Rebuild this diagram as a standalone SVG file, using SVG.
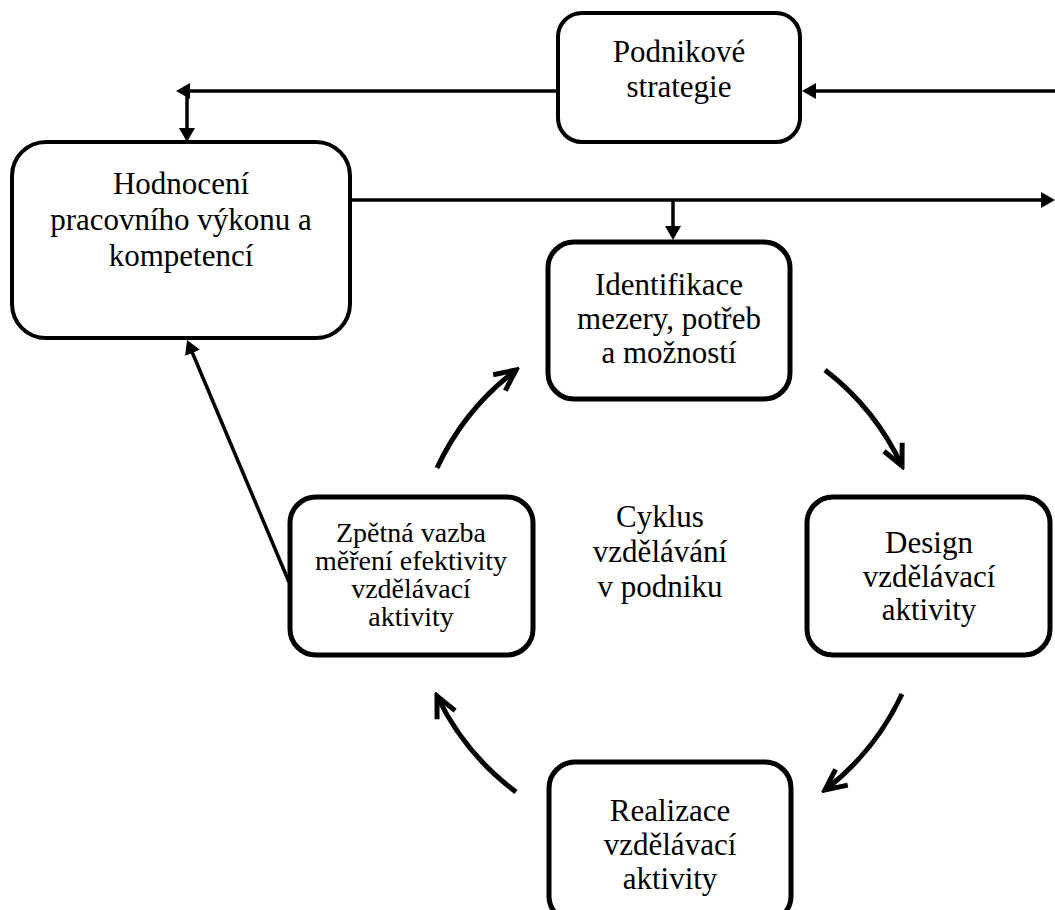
<svg xmlns="http://www.w3.org/2000/svg" width="1055" height="910" viewBox="0 0 1055 910">
  <defs>
    <style>
      .box { fill: #fff; stroke: #000; }
      .outer { stroke-width: 4; }
      .cycle { stroke-width: 5; }
      .lbl { font-family: "Liberation Serif", "Times New Roman", serif; font-size: 31px; fill: #000; text-anchor: middle; }
      .small { font-size: 28px; }
      .conn { fill: none; stroke: #000; stroke-width: 3.5; }
      .arc { fill: none; stroke: #000; stroke-width: 5; }
    </style>
    <!-- solid triangular head for the straight connectors -->
    <marker id="head" viewBox="0 0 14 16" refX="10" refY="8" markerWidth="14" markerHeight="16" markerUnits="userSpaceOnUse" orient="auto">
      <path d="M0,0 L14,8 L0,16 z" fill="#000"/>
    </marker>
    <!-- open chevron head for the cycle arcs -->
    <marker id="chev" viewBox="-26 -14 30 28" refX="0" refY="0" markerWidth="30" markerHeight="28" markerUnits="userSpaceOnUse" orient="auto">
      <path d="M-21,-10 L0,0 L-21,10" fill="none" stroke="#000" stroke-width="5" stroke-linejoin="miter"/>
    </marker>
  </defs>

  <rect width="1055" height="910" fill="#fff"/>

  <!-- connectors -->
  <g id="connectors">
    <path class="conn" d="M558,91 H180" marker-end="url(#head)"/>
    <path class="conn" d="M187,91 V138" marker-end="url(#head)"/>
    <path class="conn" d="M1055,91 H806" marker-end="url(#head)"/>
    <path class="conn" d="M350,200 H1051" marker-end="url(#head)"/>
    <path class="conn" d="M673,200 V236" marker-end="url(#head)"/>
    <path class="conn" d="M289,582 L188.6,343.7" marker-end="url(#head)"/>
    <path class="arc" d="M437,468 A260,260 0 0 1 516,370" marker-end="url(#chev)"/>
    <path class="arc" d="M825,370 A260,260 0 0 1 902,466" marker-end="url(#chev)"/>
    <path class="arc" d="M902,694 A260,260 0 0 1 825,790" marker-end="url(#chev)"/>
    <path class="arc" d="M516,792 A260,260 0 0 1 437,696" marker-end="url(#chev)"/>
  </g>

  <g id="podnikove-strategie">
    <rect class="box outer" x="558" y="13" width="242" height="129" rx="24"/>
    <text class="lbl" x="679" y="62">Podnikové</text>
    <text class="lbl" x="679" y="97">strategie</text>
  </g>

  <g id="hodnoceni">
    <rect class="box outer" x="12" y="142" width="338" height="196" rx="34"/>
    <text class="lbl" x="181" y="194">Hodnocení</text>
    <text class="lbl" x="181" y="230">pracovního výkonu a</text>
    <text class="lbl" x="181" y="266">kompetencí</text>
  </g>

  <g id="identifikace">
    <rect class="box cycle" x="548" y="242" width="242" height="157" rx="26"/>
    <text class="lbl" x="669" y="295">Identifikace</text>
    <text class="lbl" x="669" y="329">mezery, potřeb</text>
    <text class="lbl" x="669" y="363">a možností</text>
  </g>

  <g id="design">
    <rect class="box cycle" x="807" y="497" width="243" height="158" rx="26"/>
    <text class="lbl" x="929" y="553">Design</text>
    <text class="lbl" x="929" y="587">vzdělávací</text>
    <text class="lbl" x="929" y="620">aktivity</text>
  </g>

  <g id="realizace">
    <rect class="box cycle" x="549" y="762" width="242" height="160" rx="26"/>
    <text class="lbl" x="670" y="821">Realizace</text>
    <text class="lbl" x="670" y="855">vzdělávací</text>
    <text class="lbl" x="670" y="889">aktivity</text>
  </g>

  <g id="zpetna-vazba">
    <rect class="box cycle" x="290" y="497" width="243" height="158" rx="26"/>
    <text class="lbl small" x="411" y="542">Zpětná vazba</text>
    <text class="lbl small" x="411" y="570">měření efektivity</text>
    <text class="lbl small" x="411" y="598">vzdělávací</text>
    <text class="lbl small" x="411" y="626">aktivity</text>
  </g>

  <g id="cyklus">
    <text class="lbl" x="660" y="527">Cyklus</text>
    <text class="lbl" x="660" y="562">vzdělávání</text>
    <text class="lbl" x="660" y="597">v podniku</text>
  </g>
</svg>
